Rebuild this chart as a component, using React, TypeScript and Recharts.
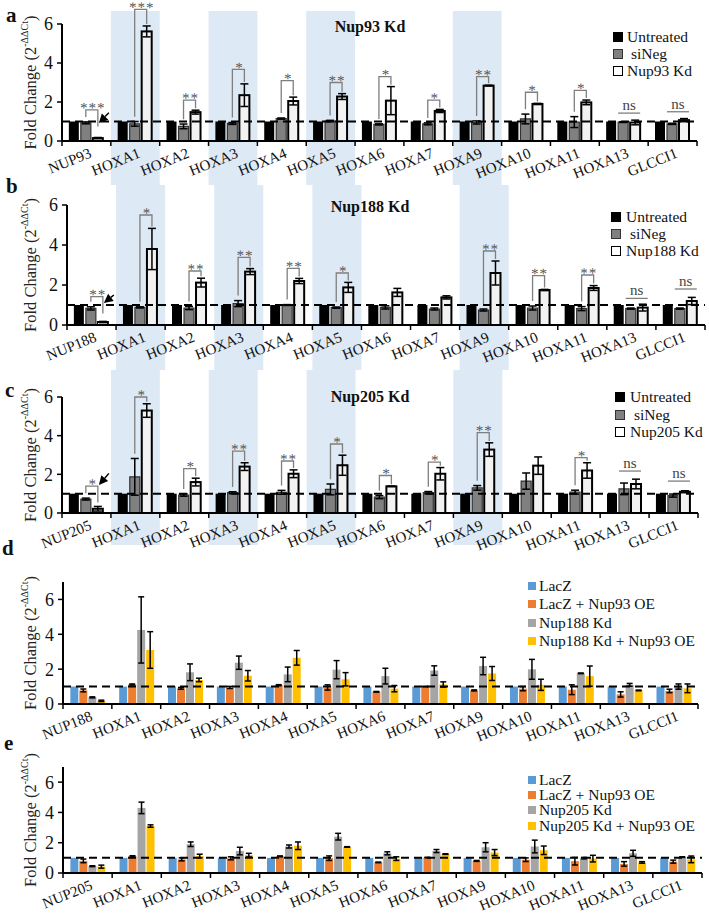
import React from "react";
import {
  Bar,
  BarChart,
  ErrorBar,
  ReferenceArea,
  ReferenceLine,
  XAxis,
  YAxis,
} from "recharts";

const FONT = '"Liberation Serif", "Times New Roman", serif';
const W = 709;
const GRAY_LINE = "#7f7f7f";

// categories
const hoxGenes = ["HOXA1", "HOXA2", "HOXA3", "HOXA4", "HOXA5", "HOXA6", "HOXA7", "HOXA9", "HOXA10", "HOXA11", "HOXA13", "GLCCI1"];
const genesA = ["NUP93", ...hoxGenes];
const genesB = ["NUP188", ...hoxGenes];
const genesC = ["NUP205", ...hoxGenes];
const shadedGenes = ["HOXA1", "HOXA3", "HOXA5", "HOXA9"];
const yTicksKd = [0, 2, 4, 6];
const yTicksOe = [0, 2, 4, 6];

// panel a - Nup93 Kd
const untreatedA = [1, 1, 1, 1, 1, 1, 1, 1, 1, 1, 1, 1, 1];
const siNegA = [0.93, 0.88, 0.75, 0.9, 1.15, 1.02, 0.85, 0.88, 0.95, 1.13, 0.97, 0.97, 0.88];
const siNegErrA = [0.05, 0.12, 0.12, 0.05, 0.03, 0.04, 0.03, 0.05, 0.08, 0.25, 0.28, 0.02, 0.03];
const kdA = [0.15, 5.62, 1.48, 2.35, 2.05, 2.28, 2.07, 1.54, 2.84, 1.9, 1.98, 0.95, 1.07];
const kdErrA = [0.03, 0.28, 0.1, 0.58, 0.2, 0.15, 0.72, 0.08, 0.02, 0.03, 0.12, 0.12, 0.08];
const sigA = ["***", "***", "**", "*", "*", "**", "*", "*", "**", "*", "*", "ns", "ns"];
const sigLevelA = [1.6, 6.75, 2.1, 3.67, 3.1, 3.0, 3.3, 2.1, 3.3, 2.5, 2.6, 1.43, 1.5];

// panel b - Nup188 Kd
const untreatedB = [1, 1, 1, 1, 1, 1, 1, 1, 1, 1, 1, 1, 1];
const siNegB = [0.83, 0.88, 0.85, 1.07, 1.0, 0.87, 0.88, 0.8, 0.75, 0.85, 0.82, 0.82, 0.82];
const siNegErrB = [0.08, 0.03, 0.08, 0.15, 0.02, 0.03, 0.08, 0.05, 0.05, 0.1, 0.1, 0.03, 0.03];
const kdB = [0.15, 3.8, 2.12, 2.67, 2.2, 1.88, 1.63, 1.38, 2.6, 1.75, 1.85, 0.87, 1.2];
const kdErrB = [0.03, 1.03, 0.22, 0.15, 0.13, 0.25, 0.2, 0.08, 0.6, 0.03, 0.12, 0.17, 0.18];
const sigB = ["**", "*", "**", "**", "**", "*", "", "", "**", "**", "**", "ns", "ns"];
const sigLevelB = [1.42, 5.5, 2.7, 3.38, 2.83, 2.6, 0, 0, 3.7, 2.47, 2.5, 1.33, 1.8];

// panel c - Nup205 Kd
const untreatedC = [1, 1, 1, 1, 1, 1, 1, 1, 1, 1, 1, 1, 1];
const siNegC = [0.72, 1.87, 0.93, 1.05, 1.07, 1.22, 0.82, 1.05, 1.3, 1.65, 1.08, 1.25, 0.9];
const siNegErrC = [0.05, 0.95, 0.06, 0.05, 0.1, 0.28, 0.08, 0.06, 0.12, 0.42, 0.1, 0.3, 0.08];
const kdC = [0.22, 5.3, 1.6, 2.4, 2.03, 2.47, 1.38, 2.03, 3.28, 2.45, 2.2, 1.5, 1.1];
const kdErrC = [0.12, 0.35, 0.2, 0.2, 0.2, 0.52, 0.01, 0.32, 0.35, 0.45, 0.4, 0.25, 0.05];
const sigC = ["*", "*", "*", "**", "**", "*", "*", "*", "**", "", "*", "ns", "ns"];
const sigLevelC = [1.39, 6.0, 2.3, 3.2, 2.69, 3.57, 1.94, 2.63, 4.16, 0, 2.86, 2.17, 1.65];

// panel d - Nup188 Kd + Nup93 OE
const lacZD = [1, 1, 1, 1, 1, 1, 1, 1, 1, 1, 1, 1, 1];
const lacZOeD = [0.78, 1.12, 0.9, 0.95, 1.08, 0.95, 0.7, 1.0, 0.78, 0.88, 0.82, 0.55, 0.75];
const lacZOeErrD = [0.08, 0.03, 0.05, 0.06, 0.03, 0.15, 0.02, 0.02, 0.03, 0.12, 0.28, 0.15, 0.1];
const kdD = [0.38, 4.25, 1.82, 2.37, 1.7, 1.97, 1.6, 1.92, 2.18, 1.99, 1.76, 1.1, 1.0];
const kdErrD = [0.03, 1.9, 0.48, 0.38, 0.42, 0.52, 0.45, 0.27, 0.5, 0.57, 0.02, 0.08, 0.15];
const kdOeD = [0.18, 3.1, 1.38, 1.62, 2.65, 1.42, 0.88, 1.12, 1.75, 1.1, 1.6, 0.78, 0.9];
const kdOeErrD = [0.04, 1.05, 0.1, 0.3, 0.42, 0.38, 0.18, 0.15, 0.4, 0.32, 0.58, 0.02, 0.25];

// panel e - Nup205 Kd + Nup93 OE
const lacZE = [1, 1, 1, 1, 1, 1, 1, 1, 1, 1, 1, 1, 1];
const lacZOeE = [0.8, 1.1, 0.9, 0.97, 1.1, 0.98, 0.7, 1.02, 0.8, 0.88, 0.78, 0.6, 0.75];
const lacZOeErrE = [0.12, 0.04, 0.1, 0.1, 0.03, 0.15, 0.02, 0.02, 0.03, 0.12, 0.25, 0.15, 0.1];
const kdE = [0.45, 4.3, 1.9, 1.45, 1.75, 2.4, 1.3, 1.45, 1.7, 1.75, 0.98, 1.3, 1.05];
const kdErrE = [0.03, 0.38, 0.15, 0.25, 0.1, 0.22, 0.1, 0.1, 0.3, 0.42, 0.05, 0.2, 0.02];
const kdOeE = [0.42, 3.1, 1.12, 1.18, 1.8, 1.72, 0.95, 1.25, 1.35, 1.5, 0.95, 0.7, 0.9];
const kdOeErrE = [0.1, 0.08, 0.12, 0.12, 0.25, 0.02, 0.12, 0.02, 0.2, 0.28, 0.22, 0.05, 0.22];

const KD_BAR_GAP = 2;

function kdRows(genes: string[], un: number[], si: number[], siErr: number[], kd: number[], kdErr: number[], sig: string[], level: number[]) {
  return genes.map((gene, i) => ({
    gene,
    untreated: un[i],
    siNeg: si[i],
    siNegErr: siErr[i],
    kd: kd[i],
    kdErr: kdErr[i],
    sig: sig[i],
    level: level[i],
  }));
}

function oeRows(genes: string[], lac: number[], lacOe: number[], lacOeErr: number[], kd: number[], kdErr: number[], kdOe: number[], kdOeErr: number[]) {
  return genes.map((gene, i) => ({
    gene,
    lacZ: lac[i],
    lacZOe: lacOe[i],
    lacZOeErr: lacOeErr[i],
    kd: kd[i],
    kdErr: kdErr[i],
    kdOe: kdOe[i],
    kdOeErr: kdOeErr[i],
  }));
}

function GeneTick(props: any) {
  const { x, y, payload, band, lastGene } = props;
  const lx = x + 6;
  const ly = y + 16;
  return (
    <g>
      <line x1={x - band / 2} y1={y} x2={x - band / 2} y2={y + 5} stroke="#000" strokeWidth={1.5} />
      {payload.value === lastGene && (
        <line x1={x + band / 2} y1={y} x2={x + band / 2} y2={y + 5} stroke="#000" strokeWidth={1.5} />
      )}
      <text
        x={lx}
        y={ly}
        textAnchor="end"
        transform={`rotate(-22 ${lx} ${ly})`}
        fontSize={15}
        fontFamily={FONT}
        fill="#111"
      >
        {payload.value}
      </text>
    </g>
  );
}

function FoldLabel(props: any) {
  const vb = props.viewBox || { y: 0, height: 0 };
  const cx = 30;
  const cy = vb.y + vb.height / 2;
  return (
    <text
      x={cx}
      y={cy}
      transform={`rotate(-90 ${cx} ${cy})`}
      textAnchor="middle"
      dominantBaseline="central"
      fontSize={16.5}
      fontFamily={FONT}
      fill="#222"
    >
      Fold Change (2
      <tspan dy={-6} fontSize={10}>
        -ΔΔCt
      </tspan>
      <tspan dy={6}>)</tspan>
    </text>
  );
}

function KdShape(props: any) {
  const { x, y, width, height, payload, index, ppu, arrow } = props;
  const base = y + height;
  const toY = (v: number) => base - v * ppu;
  const step = width + KD_BAR_GAP;
  const grayC = x - step + width / 2;
  const kdCx = x + width / 2;
  const sig = payload.sig;
  const parts: React.ReactNode[] = [];
  parts.push(
    <rect key="r" x={x} y={y} width={width} height={height} fill="#f2f2f2" stroke="#000" strokeWidth={2} />
  );
  if (sig === "ns") {
    const ly = toY(payload.level);
    const xa = x - step;
    const xb = x + width;
    parts.push(<line key="l" x1={xa} x2={xb} y1={ly} y2={ly} stroke={GRAY_LINE} strokeWidth={1.3} />);
    parts.push(
      <text key="t" x={(xa + xb) / 2} y={ly - 3} textAnchor="middle" fontSize={15} fontFamily={FONT} fill="#444">
        ns
      </text>
    );
  } else if (sig) {
    const ly = toY(payload.level);
    const lb = toY(payload.siNeg + payload.siNegErr + 0.25);
    const rb = toY(Math.max(payload.kd + payload.kdErr + 0.1, payload.level - 0.85));
    const sx = (grayC + kdCx) / 2 + 1;
    const sy = ly + 3;
    parts.push(
      <polyline
        key="b"
        points={`${grayC},${lb} ${grayC},${ly} ${kdCx},${ly} ${kdCx},${rb}`}
        fill="none"
        stroke={GRAY_LINE}
        strokeWidth={1.3}
      />
    );
    parts.push(
      <text
        key="t"
        x={sx}
        y={sy}
        transform={`rotate(0.4 ${sx} ${sy})`}
        textAnchor="middle"
        fontSize={15}
        fontFamily={FONT}
        fill="#555"
        letterSpacing={1}
      >
        {sig}
      </text>
    );
  }
  if (index === 0 && arrow) {
    const tx = kdCx + 1;
    const ty = toY(arrow[1]);
    const sx = kdCx + 11;
    const sy = toY(arrow[0]);
    const ang = Math.atan2(ty - sy, tx - sx);
    const hl = 9;
    const hw = 4.5;
    const bx = tx - hl * Math.cos(ang);
    const by = ty - hl * Math.sin(ang);
    const px = -Math.sin(ang) * hw;
    const py = Math.cos(ang) * hw;
    parts.push(<line key="as" x1={sx} y1={sy} x2={bx} y2={by} stroke="#000" strokeWidth={1.5} />);
    parts.push(
      <polygon key="ah" points={`${tx},${ty} ${bx + px},${by + py} ${bx - px},${by - py}`} fill="#000" />
    );
  }
  return <g>{parts}</g>;
}

type KdPanelProps = {
  top: number;
  height: number;
  marginTop: number;
  marginRight: number;
  yWidth: number;
  xHeight: number;
  data: any[];
  shadeTop: number;
  shadeBottom: number;
  arrow: number[];
};

function KdPanel({ top, height, marginTop, marginRight, yWidth, xHeight, data, shadeTop, shadeBottom, arrow }: KdPanelProps) {
  const plotW = W - yWidth - marginRight;
  const plotH = height - marginTop - xHeight;
  const band = plotW / data.length;
  const ppu = plotH / 6;
  const lastGene = data[data.length - 1].gene;
  return (
    <div style={{ position: "absolute", left: 0, top, width: W, height, overflow: "hidden" }}>
      <BarChart
        width={W}
        height={height}
        data={data}
        margin={{ top: marginTop, right: marginRight, bottom: 0, left: 0 }}
        barCategoryGap="14%"
        barGap={KD_BAR_GAP}
      >
        {shadedGenes.map((g) => (
          <ReferenceArea
            key={g}
            x1={g}
            x2={g}
            y1={shadeBottom}
            y2={shadeTop}
            ifOverflow="visible"
            fill="#dde9f5"
            fillOpacity={1}
            stroke="none"
          />
        ))}
        <XAxis
          dataKey="gene"
          interval={0}
          height={xHeight}
          tickLine={false}
          tickSize={0}
          tickMargin={0}
          axisLine={{ stroke: "#000", strokeWidth: 2 }}
          tick={(p: any) => <GeneTick {...p} band={band} lastGene={lastGene} />}
        />
        <YAxis
          width={yWidth}
          domain={[0, 6]}
          ticks={yTicksKd}
          tickSize={5}
          tickMargin={4}
          axisLine={{ stroke: "#000", strokeWidth: 2 }}
          tickLine={{ stroke: "#000", strokeWidth: 1.5 }}
          tick={{ fontSize: 18, fontFamily: FONT, fill: "#111" }}
          label={(p: any) => <FoldLabel {...p} />}
        />
        <Bar dataKey="untreated" fill="#000" isAnimationActive={false} />
        <Bar dataKey="siNeg" fill="#808080" stroke="#333" strokeWidth={1.2} isAnimationActive={false}>
          <ErrorBar dataKey="siNegErr" width={4} stroke="#000" strokeWidth={1.5} direction="y" />
        </Bar>
        <Bar
          dataKey="kd"
          fill="#f2f2f2"
          isAnimationActive={false}
          shape={(p: any) => <KdShape {...p} ppu={ppu} arrow={arrow} />}
        >
          <ErrorBar dataKey="kdErr" width={4} stroke="#000" strokeWidth={1.5} direction="y" />
        </Bar>
        <ReferenceLine y={1} stroke="#000" strokeWidth={2} strokeDasharray="8 5" />
      </BarChart>
    </div>
  );
}

type OePanelProps = {
  top: number;
  height: number;
  marginTop: number;
  marginRight: number;
  yWidth: number;
  xHeight: number;
  data: any[];
};

function OePanel({ top, height, marginTop, marginRight, yWidth, xHeight, data }: OePanelProps) {
  const plotW = W - yWidth - marginRight;
  const band = plotW / data.length;
  const lastGene = data[data.length - 1].gene;
  return (
    <div style={{ position: "absolute", left: 0, top, width: W, height, overflow: "hidden" }}>
      <BarChart
        width={W}
        height={height}
        data={data}
        margin={{ top: marginTop, right: marginRight, bottom: 0, left: 0 }}
        barCategoryGap="15%"
        barGap={1}
      >
        <XAxis
          dataKey="gene"
          interval={0}
          height={xHeight}
          tickLine={false}
          tickSize={0}
          tickMargin={0}
          axisLine={{ stroke: "#000", strokeWidth: 2 }}
          tick={(p: any) => <GeneTick {...p} band={band} lastGene={lastGene} />}
        />
        <YAxis
          width={yWidth}
          domain={[0, 7]}
          ticks={yTicksOe}
          tickSize={5}
          tickMargin={4}
          axisLine={{ stroke: "#000", strokeWidth: 2 }}
          tickLine={{ stroke: "#000", strokeWidth: 1.5 }}
          tick={{ fontSize: 18, fontFamily: FONT, fill: "#111" }}
          label={(p: any) => <FoldLabel {...p} />}
        />
        <Bar dataKey="lacZ" fill="#5b9bd5" isAnimationActive={false} />
        <Bar dataKey="lacZOe" fill="#ed7d31" isAnimationActive={false}>
          <ErrorBar dataKey="lacZOeErr" width={3} stroke="#000" strokeWidth={1.5} direction="y" />
        </Bar>
        <Bar dataKey="kd" fill="#a5a5a5" isAnimationActive={false}>
          <ErrorBar dataKey="kdErr" width={3} stroke="#000" strokeWidth={1.5} direction="y" />
        </Bar>
        <Bar dataKey="kdOe" fill="#ffc000" isAnimationActive={false}>
          <ErrorBar dataKey="kdOeErr" width={3} stroke="#000" strokeWidth={1.5} direction="y" />
        </Bar>
        <ReferenceLine y={1} stroke="#000" strokeWidth={2} strokeDasharray="8 5" />
      </BarChart>
    </div>
  );
}

type LegendItem = { label: string; fill: string; stroke?: string };

function Legend({ left, top, items, box, lineH, gap }: { left: number; top: number; items: LegendItem[]; box: number; lineH: number; gap: number }) {
  return (
    <div style={{ position: "absolute", left, top, fontFamily: FONT, fontSize: 15.5, color: "#111" }}>
      {items.map((it) => (
        <div key={it.label} style={{ display: "flex", alignItems: "center", height: lineH, whiteSpace: "nowrap" }}>
          <span
            style={{
              display: "inline-block",
              width: box,
              height: box,
              boxSizing: "border-box",
              background: it.fill,
              border: it.stroke ? `1.5px solid ${it.stroke}` : "none",
              marginRight: gap,
            }}
          />
          <span>{it.label}</span>
        </div>
      ))}
    </div>
  );
}

const letterStyle = (left: number, top: number): React.CSSProperties => ({
  position: "absolute",
  left,
  top,
  fontFamily: FONT,
  fontWeight: "bold",
  fontSize: 21,
  lineHeight: "21px",
  color: "#111",
});

const titleStyle = (top: number): React.CSSProperties => ({
  position: "absolute",
  left: 300,
  width: 140,
  top,
  textAlign: "center",
  fontFamily: FONT,
  fontWeight: "bold",
  fontSize: 16,
  lineHeight: "18px",
  color: "#111",
});

export default function App() {
  const dataA = kdRows(genesA, untreatedA, siNegA, siNegErrA, kdA, kdErrA, sigA, sigLevelA);
  const dataB = kdRows(genesB, untreatedB, siNegB, siNegErrB, kdB, kdErrB, sigB, sigLevelB);
  const dataC = kdRows(genesC, untreatedC, siNegC, siNegErrC, kdC, kdErrC, sigC, sigLevelC);
  const dataD = oeRows(genesB, lacZD, lacZOeD, lacZOeErrD, kdD, kdErrD, kdOeD, kdOeErrD);
  const dataE = oeRows(genesC, lacZE, lacZOeE, lacZOeErrE, kdE, kdErrE, kdOeE, kdOeErrE);

  const kdLegend = (name: string): LegendItem[] => [
    { label: "Untreated", fill: "#000" },
    { label: "\u00a0siNeg", fill: "#808080", stroke: "#333" },
    { label: name, fill: "#fff", stroke: "#000" },
  ];
  const oeLegend = (name: string): LegendItem[] => [
    { label: "LacZ", fill: "#5b9bd5" },
    { label: "LacZ + Nup93 OE", fill: "#ed7d31" },
    { label: name, fill: "#a5a5a5" },
    { label: `${name} + Nup93 OE`, fill: "#ffc000" },
  ];

  return (
    <div style={{ position: "absolute", left: 0, top: 0, width: W, height: 923, background: "#fff", overflow: "hidden" }}>
      <KdPanel top={0} height={185} marginTop={24} marginRight={12} yWidth={62} xHeight={44} data={dataA} shadeTop={6.67} shadeBottom={-20} arrow={[1.45, 0.92]} />
      <KdPanel top={185} height={185} marginTop={20} marginRight={4} yWidth={67} xHeight={45} data={dataB} shadeTop={20} shadeBottom={-20} arrow={[1.5, 1.1]} />
      <KdPanel top={370} height={200} marginTop={27} marginRight={11} yWidth={62} xHeight={57} data={dataC} shadeTop={20} shadeBottom={-1.66} arrow={[2.05, 1.45]} />
      <OePanel top={570} height={180} marginTop={12} marginRight={11} yWidth={63} xHeight={46} data={dataD} />
      <OePanel top={750} height={173} marginTop={17} marginRight={7} yWidth={63} xHeight={50} data={dataE} />

      <div style={letterStyle(6, 5)}>a</div>
      <div style={letterStyle(6, 176)}>b</div>
      <div style={letterStyle(5, 380)}>c</div>
      <div style={letterStyle(2, 538)}>d</div>
      <div style={letterStyle(4, 733)}>e</div>

      <div style={titleStyle(18)}>Nup93 Kd</div>
      <div style={titleStyle(198)}>Nup188 Kd</div>
      <div style={titleStyle(388)}>Nup205 Kd</div>

      <Legend left={613} top={28.5} items={kdLegend("Nup93 Kd")} box={10} lineH={17} gap={4} />
      <Legend left={611} top={208.5} items={kdLegend("Nup188 Kd")} box={10} lineH={17} gap={5} />
      <Legend left={615} top={388.5} items={kdLegend("Nup205 Kd")} box={10} lineH={17.5} gap={5} />
      <Legend left={528} top={577} items={oeLegend("Nup188 Kd")} box={8} lineH={18.3} gap={3} />
      <Legend left={528} top={772} items={oeLegend("Nup205 Kd")} box={8} lineH={15.4} gap={3} />
    </div>
  );
}
